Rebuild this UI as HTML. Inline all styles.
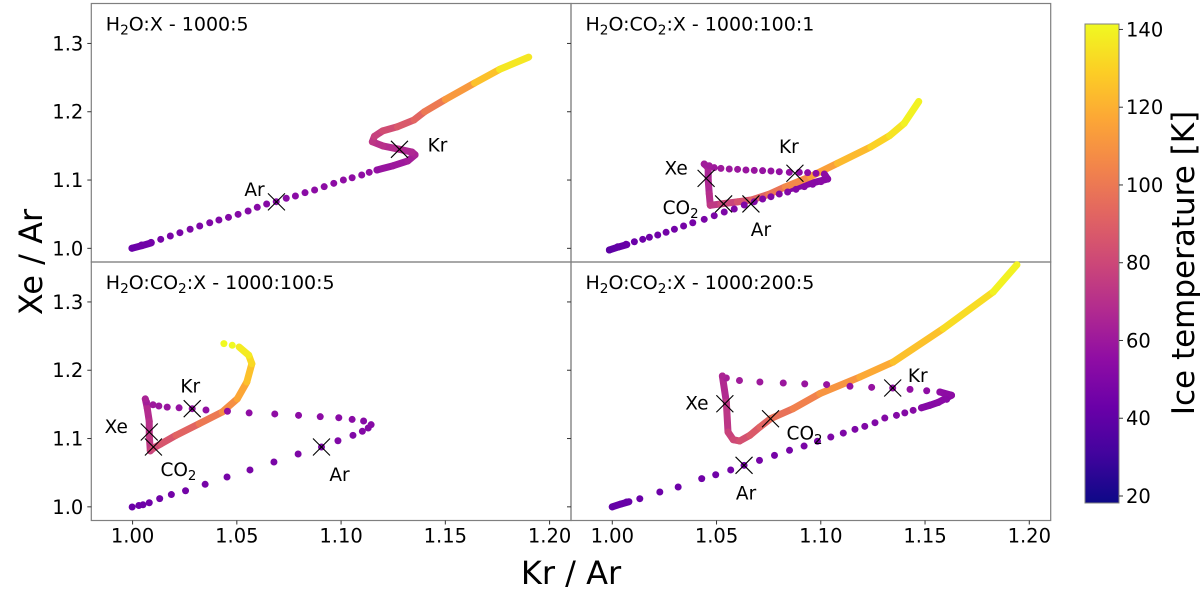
<!DOCTYPE html>
<html><head><meta charset="utf-8">
<style>
html,body{margin:0;padding:0;background:#fff;}
svg{display:block;font-family:"DejaVu Sans","Liberation Sans",sans-serif;}
</style></head>
<body>
<svg id="chart" width="1200" height="592" viewBox="0 0 1200 592" xmlns="http://www.w3.org/2000/svg">
<defs>
<linearGradient id="plasma" x1="0" y1="1" x2="0" y2="0">
<stop offset="0" stop-color="#0d0887"/><stop offset="0.1" stop-color="#41049d"/><stop offset="0.2" stop-color="#6a00a8"/><stop offset="0.3" stop-color="#8f0da4"/><stop offset="0.4" stop-color="#b12a90"/><stop offset="0.5" stop-color="#cc4778"/><stop offset="0.6" stop-color="#e16462"/><stop offset="0.7" stop-color="#f2844b"/><stop offset="0.8" stop-color="#fca636"/><stop offset="0.9" stop-color="#fcce25"/><stop offset="1" stop-color="#f0f921"/>
</linearGradient>
</defs>
<g id="root"></g>
</svg>
<script>
// ---------- data ----------
const xTicks = [1.00, 1.05, 1.10, 1.15, 1.20];
const xTickLabels = ["1.00", "1.05", "1.10", "1.15", "1.20"];
const yTicks = [1.0, 1.1, 1.2, 1.3];
const yTickLabels = ["1.0", "1.1", "1.2", "1.3"];
const cbTicks = [20, 40, 60, 80, 100, 120, 140];
const cbTickLabels = ["20", "40", "60", "80", "100", "120", "140"];

// Panel A: H2O:X 1000:5
const aDotsX = [0.9997,1.0043,1.0089,1.0135,1.0181,1.0227,1.0276,1.0322,1.0370,1.0414,1.0460,1.0506,1.0554,1.0598,1.0643,1.0689,1.0737,1.0781,1.0827,1.0873,1.0919,1.0965,1.1011,1.1053,1.1099,1.1135,1.1172];
const aDotsY = [1.0001,1.0049,1.0088,1.0132,1.0181,1.0229,1.0279,1.0327,1.0375,1.0415,1.0454,1.0498,1.0547,1.0601,1.0649,1.0683,1.0733,1.0766,1.0815,1.0854,1.0903,1.0952,1.1001,1.1034,1.1074,1.1113,1.1147];
const aDotsT = [44,46,47,48,49,49,50,50,51,51,52,52,52,53,53,53,54,54,54,55,55,55,56,56,56,57,57];
const aLineX = [0.9997,1.0045,1.0090,1.1172,1.125,1.132,1.1355,1.134,1.128,1.120,1.115,1.116,1.120,1.127,1.135,1.140,1.150,1.164,1.176,1.190];
const aLineY = [1.0001,1.0040,1.0080,1.1147,1.121,1.128,1.137,1.141,1.145,1.150,1.156,1.164,1.172,1.178,1.188,1.200,1.218,1.242,1.262,1.280];
const aLineT = [44,45,46,58,60,62,64,66,68,70,72,75,80,85,90,95,105,118,130,140];
const aCrossX = [1.069, 1.128];
const aCrossY = [1.068, 1.145];
const aCrossLabels = ["Ar", "Kr"];

// Panel B: H2O:CO2:X 1000:100:1
const bDotsX = [0.9986,1.0026,1.0066,1.0106,1.0146,1.0178,1.0218,1.0258,1.0298,1.0342,1.0386,1.0441,1.0489,1.0537,1.0585,1.0633,1.0681,1.0721,1.0761,1.0801,1.0841,1.0881,1.0921,1.0961,1.1001,1.1033,1.1017,1.0977,1.0937,1.0897,1.0849,1.0801,1.0761,1.0721,1.0681,1.0641,1.0601,1.0561,1.0521,1.0489,1.0465,1.0441];
const bDotsY = [0.9976,1.0024,1.0059,1.0097,1.0132,1.0162,1.0195,1.0235,1.0279,1.0327,1.0375,1.0425,1.0478,1.0532,1.0576,1.0635,1.0683,1.0722,1.0756,1.0796,1.0825,1.0864,1.0903,1.0938,1.0976,1.1015,1.1088,1.1098,1.1108,1.1113,1.1113,1.1122,1.1132,1.1137,1.1142,1.1147,1.1157,1.1162,1.1171,1.1181,1.1210,1.1235];
const bDotsT = [40,42,43,44,45,46,46,47,47,48,48,49,49,50,50,50,51,51,51,52,52,52,53,53,54,54,55,55,56,56,57,57,58,58,59,59,60,60,61,61,62,62];
const bLineX = [0.9986,1.0030,1.0070,1.085,1.095,1.1033,1.1017,1.0441,1.046,1.046,1.0465,1.047,1.052,1.060,1.067,1.075,1.083,1.095,1.108,1.124,1.133,1.140,1.147];
const bLineY = [0.9976,1.0020,1.0055,1.0870,1.0950,1.1015,1.1088,1.1235,1.118,1.100,1.080,1.063,1.065,1.068,1.071,1.079,1.090,1.105,1.1245,1.1486,1.165,1.183,1.215];
const bLineT = [40,42,43,52,53,54,55,62,64,66,68,72,76,82,88,95,102,110,118,126,132,136,140];
const bCrossX = [1.045, 1.0534, 1.0665, 1.0876];
const bCrossY = [1.1025, 1.065, 1.065, 1.110];
const bCrossLabels = ["Xe", "CO2", "Ar", "Kr"];

// Panel C: H2O:CO2:X 1000:100:5
const cDotsX = [0.9998,1.003,1.005,1.008,1.013,1.0186,1.0254,1.0348,1.0453,1.0563,1.0678,1.0794,1.0906,1.0985,1.1057,1.1102,1.1130,1.1144,1.1108,1.1053,1.0989,1.0900,1.0796,1.0682,1.0559,1.0455,1.0352,1.0286,1.0223,1.0166,1.0126,1.0098,1.0067,1.0061,1.0478,1.0438];
const cDotsY = [0.9998,1.002,1.003,1.006,1.012,1.018,1.0236,1.033,1.0437,1.054,1.0657,1.0774,1.0876,1.0968,1.1047,1.1106,1.1154,1.1203,1.1257,1.1280,1.1305,1.1320,1.1340,1.1360,1.1375,1.1400,1.1418,1.1437,1.1450,1.1460,1.1476,1.1495,1.1535,1.1580,1.2365,1.2390];
const cDotsT = [44,45,45,46,46,47,47,48,48,49,49,50,50,51,51,52,52,53,53,54,54,55,55,56,56,57,57,58,58,59,60,61,63,65,140,141];
const cLineX = [1.0061,1.0070,1.0080,1.0080,1.0085,1.0100,1.0135,1.0208,1.0319,1.0430,1.0502,1.0548,1.0572,1.0557,1.0511];
const cLineY = [1.1580,1.1450,1.1250,1.1050,1.0820,1.0860,1.0920,1.1047,1.1217,1.1388,1.1580,1.1828,1.2096,1.2220,1.2340];
const cLineT = [66,68,70,72,76,80,84,88,96,104,112,120,128,134,138];
const cCrossX = [1.008, 1.010, 1.0286, 1.0906];
const cCrossY = [1.1096, 1.0876, 1.1437, 1.0876];
const cCrossLabels = ["Xe", "CO2", "Kr", "Ar"];

// Panel D: H2O:CO2:X 1000:200:5
const dDotsX = [1.0000,1.0068,1.0132,1.0228,1.0316,1.0429,1.0496,1.0568,1.0632,1.0706,1.0778,1.0850,1.0920,1.0984,1.1048,1.1108,1.1164,1.1211,1.1260,1.1307,1.1363,1.1403,1.1443,1.1483,1.1523,1.1564,1.1604,1.1627,1.1571,1.1508,1.1428,1.1345,1.1244,1.1140,1.1028,1.0923,1.0820,1.0708,1.0610,1.0547,1.0528];
const dDotsY = [1.0000,1.0071,1.0119,1.0217,1.0290,1.0413,1.0470,1.0540,1.0608,1.0680,1.0754,1.0828,1.0890,1.0960,1.1022,1.1080,1.1135,1.1179,1.1232,1.1300,1.1340,1.1376,1.1413,1.1450,1.1487,1.1530,1.1574,1.1633,1.1681,1.1700,1.1720,1.1740,1.1750,1.1765,1.1790,1.1800,1.1813,1.1828,1.1850,1.1886,1.1916];
const dDotsT = [42,43,44,45,45,46,46,47,47,48,48,48,49,49,50,50,50,51,51,52,52,52,53,53,53,54,54,55,56,56,57,57,58,58,59,59,60,61,62,64,66];
const dLineX = [1.0000,1.0040,1.0080,1.1483,1.1523,1.1564,1.1627,1.1571,1.0528,1.0547,1.0555,1.0580,1.0611,1.0660,1.0708,1.0759,1.0867,1.0995,1.1187,1.1347,1.1587,1.1827,1.1941];
const dLineY = [1.0000,1.0040,1.0075,1.1450,1.1487,1.1530,1.1633,1.1681,1.1916,1.1535,1.1096,1.0983,1.0964,1.1047,1.1169,1.1290,1.1437,1.1657,1.1900,1.2120,1.2608,1.3146,1.3545];
const dLineT = [42,43,43,52,53,54,55,56,66,70,76,80,82,86,90,94,100,106,114,120,128,136,140];
const dCrossX = [1.054, 1.0759, 1.0632, 1.1345];
const dCrossY = [1.151, 1.129, 1.0608, 1.174];
const dCrossLabels = ["Xe", "CO2", "Ar", "Kr"];

// ---------- rendering ----------
const NS = "http://www.w3.org/2000/svg";
const root = document.getElementById("root");
const X0 = 0.9802, XPX = 2085, Y0 = 0.98, YPX = 683;
const T_MIN = 18.2, T_MAX = 141.4;
const stops = [[13,8,135],[65,4,157],[106,0,168],[143,13,164],[177,42,144],[204,71,120],[225,100,98],[242,132,75],[252,166,54],[252,206,37],[240,249,33]];
function plasma(T){
  let t = (T - 20) / 120; t = Math.max(0, Math.min(1, t));
  const f = t * 10, i = Math.min(9, Math.floor(f)), r = f - i;
  const a = stops[i], b = stops[i+1];
  return "rgb(" + [0,1,2].map(k => Math.round(a[k] + (b[k]-a[k]) * r)).join(",") + ")";
}
function mk(tag, attrs, parent){
  const e = document.createElementNS(NS, tag);
  for (const k in attrs) e.setAttribute(k, attrs[k]);
  (parent || root).appendChild(e);
  return e;
}
function labelText(parent, x, y, str, size, anchor){
  const t = mk("text", {x: x, y: y, "font-size": size, "text-anchor": anchor || "start", fill: "#000"}, parent);
  let buf = "";
  for (let i = 0; i < str.length; i++){
    const ch = str[i];
    if (ch === "2" && i > 0 && /[A-Z]/.test(str[i-1])){
      if (buf){ const s = mk("tspan", {}, t); s.textContent = buf; buf = ""; }
      const s = mk("tspan", {"font-size": size*0.72, dy: size*0.22}, t); s.textContent = "2";
      const s2 = mk("tspan", {dy: -size*0.22}, t); s2.textContent = "\u200b";
    } else buf += ch;
  }
  if (buf){ const s = mk("tspan", {}, t); s.textContent = buf; }
  return t;
}

const panels = [
  {name:"panel-1000-5", title:"H2O:X - 1000:5", left:91.3, top:3.5, bottom:262, dx:aDotsX, dy:aDotsY, dt:aDotsT, lx:aLineX, ly:aLineY, lt:aLineT, cx:aCrossX, cy:aCrossY, cl:aCrossLabels,
   off:{"Ar":[-22,-12],"Kr":[38,-4]}, skip:[2]},
  {name:"panel-1000-100-1", title:"H2O:CO2:X - 1000:100:1", left:571, top:3.5, bottom:262, dx:bDotsX, dy:bDotsY, dt:bDotsT, lx:bLineX, ly:bLineY, lt:bLineT, cx:bCrossX, cy:bCrossY, cl:bCrossLabels,
   off:{"Xe":[-30,-10],"CO2":[-43,4],"Ar":[10,26],"Kr":[-6,-26]}, skip:[2,6]},
  {name:"panel-1000-100-5", title:"H2O:CO2:X - 1000:100:5", left:91.3, top:262, bottom:520.5, dx:cDotsX, dy:cDotsY, dt:cDotsT, lx:cLineX, ly:cLineY, lt:cLineT, cx:cCrossX, cy:cCrossY, cl:cCrossLabels,
   off:{"Xe":[-33,-5],"CO2":[25,23],"Kr":[-2,-22],"Ar":[18,28]}, skip:[]},
  {name:"panel-1000-200-5", title:"H2O:CO2:X - 1000:200:5", left:571, top:262, bottom:520.5, dx:dDotsX, dy:dDotsY, dt:dDotsT, lx:dLineX, ly:dLineY, lt:dLineT, cx:dCrossX, cy:dCrossY, cl:dCrossLabels,
   off:{"Xe":[-28,0],"CO2":[34,15],"Ar":[2,28],"Kr":[25,-12]}, skip:[2,7], xt:true}
];
panels[2].xt = true;

panels.forEach(function(p){
  const W = 479.7;
  const g = mk("g", {});
  
  
  const sx = v => p.left + (v - X0) * XPX;
  const sy = v => p.bottom - (v - Y0) * YPX;
  const fr = mk("rect", {x:p.left, y:p.top, width:W, height:p.bottom-p.top, fill:"none", stroke:"#7f7f7f", "stroke-width":1.2}, g);
  
  
  yTicks.forEach(function(v, i){
    const y = sy(v);
    const tk = mk("line", {x1:p.left-4, x2:p.left, y1:y, y2:y, stroke:"#333", "stroke-width":1}, g);
    
    
    if (p.left < 100){
      const tl = mk("text", {x:p.left-8, y:y+7, "font-size":19.5, "text-anchor":"end", fill:"#000"}, g);
      tl.textContent = yTickLabels[i];
      
      
    }
  });
  if (p.xt){
    xTicks.forEach(function(v, i){
      const x = sx(v);
      const tk = mk("line", {x1:x, x2:x, y1:p.bottom, y2:p.bottom+4, stroke:"#333", "stroke-width":1}, g);
      
      
      const tl = mk("text", {x:x, y:p.bottom+22, "font-size":19.5, "text-anchor":"middle", fill:"#000"}, g);
      tl.textContent = xTickLabels[i];
      
      
    });
  }
  const tt = labelText(g, p.left+14.5, p.top+27, p.title, 19);
  
  
  for (let i = 0; i < p.lx.length - 1; i++){
    if (p.skip.indexOf(i) >= 0) continue;
    const seg = mk("line", {x1:sx(p.lx[i]), y1:sy(p.ly[i]), x2:sx(p.lx[i+1]), y2:sy(p.ly[i+1]), stroke:plasma((p.lt[i]+p.lt[i+1])/2), "stroke-width":7, "stroke-linecap":"round"}, g);
    
    
  }
  p.dx.forEach(function(v, i){
    const c = mk("circle", {cx:sx(v), cy:sy(p.dy[i]), r:3.5, fill:plasma(p.dt[i])}, g);
    
    
  });
  p.cx.forEach(function(v, i){
    const x = sx(v), y = sy(p.cy[i]), h = 8.5;
    const cg = mk("g", {}, g);
    
    
    mk("line", {x1:x-h, y1:y-h, x2:x+h, y2:y+h, stroke:"#000", "stroke-width":1.1}, cg);
    mk("line", {x1:x-h, y1:y+h, x2:x+h, y2:y-h, stroke:"#000", "stroke-width":1.1}, cg);
    const o = p.off[p.cl[i]] || [10,-10];
    const lt = labelText(cg, x+o[0], y+o[1]+6, p.cl[i], 18.5, "middle");
    
    
  });
});

const xt = mk("text", {x:571, y:584, "font-size":32, "text-anchor":"middle", fill:"#000"});
xt.textContent = "Kr / Ar";


const yt = mk("text", {x:0, y:0, "font-size":32, "text-anchor":"middle", fill:"#000", transform:"translate(42,262) rotate(-90)"});
yt.textContent = "Xe / Ar";



const cbTop = 24, cbBot = 503, cbL = 1085, cbW = 34;
const cbY = T => cbBot - (T - T_MIN) / (T_MAX - T_MIN) * (cbBot - cbTop);
const cbg = mk("g", {});


mk("rect", {x:cbL, y:cbTop, width:cbW, height:cbBot-cbTop, fill:"url(#plasma)", stroke:"#7f7f7f", "stroke-width":1}, cbg);
cbTicks.forEach(function(v, i){
  const y = cbY(v);
  const tk = mk("line", {x1:cbL+cbW, x2:cbL+cbW+4, y1:y, y2:y, stroke:"#333", "stroke-width":1}, cbg);
  
  
  const tl = mk("text", {x:cbL+cbW+7, y:y+7, "font-size":19.5, fill:"#000"}, cbg);
  tl.textContent = cbTickLabels[i];
  
  
});
const cbt = mk("text", {x:0, y:0, "font-size":31, "text-anchor":"middle", fill:"#000", transform:"translate(1194,263) rotate(-90)"}, cbg);
cbt.textContent = "Ice temperature [K]";


</script>
</body></html>
